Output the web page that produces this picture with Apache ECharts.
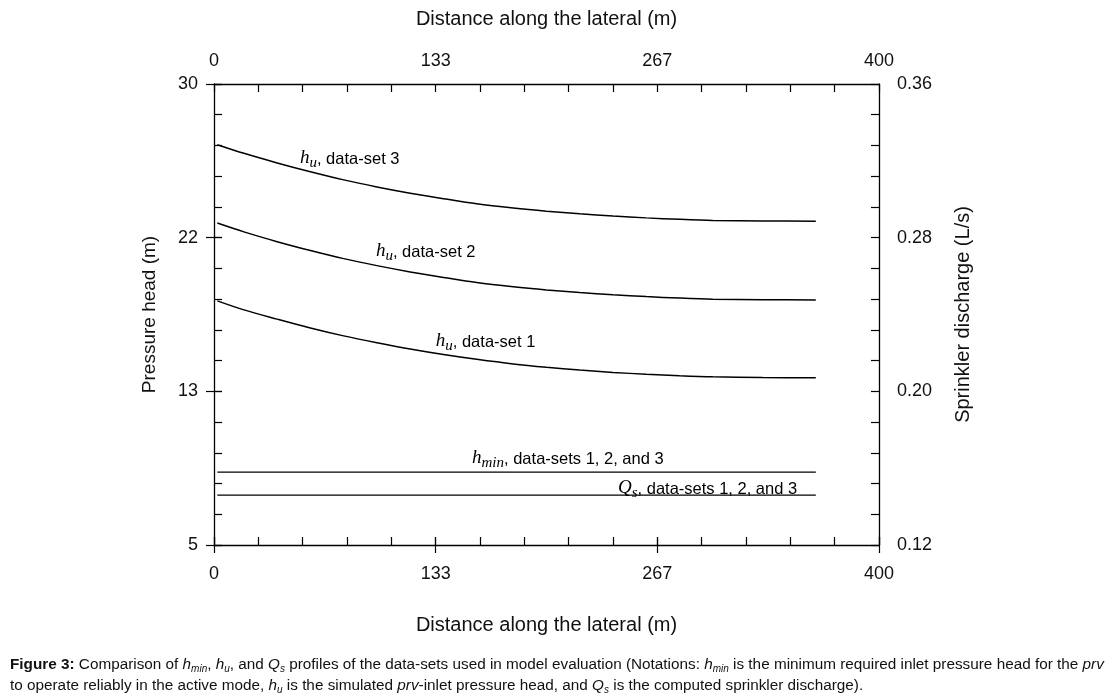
<!DOCTYPE html>
<html>
<head>
<meta charset="utf-8">
<script src="https://cdn.jsdelivr.net/npm/echarts@6/dist/echarts.min.js"></script>
<style>
html,body{margin:0;padding:0;background:#fff;}
#chart{position:absolute;left:0;top:0;width:1112px;height:697px;}
#cap{position:absolute;left:10px;top:653px;font-family:'Liberation Sans',Arial,sans-serif;font-size:15.3px;line-height:21px;color:#111;white-space:nowrap;}
#cap sub{font-size:10px;font-style:italic;vertical-align:-3px;line-height:0;}
</style>
</head>
<body>
<div id="chart"></div>
<div id="cap"><b>Figure 3:</b> Comparison of <i>h</i><sub>min</sub>, <i>h</i><sub>u</sub>, and <i>Q</i><sub>s</sub> profiles of the data-sets used in model evaluation (Notations: <i>h</i><sub>min</sub> is the minimum required inlet pressure head for the <i>prv</i><br>to operate reliably in the active mode, <i>h</i><sub>u</sub> is the simulated <i>prv</i>-inlet pressure head, and <i>Q</i><sub>s</sub> is the computed sprinkler discharge).</div>
<script>
// ---- data ----
const xTickLabels = ['0', '133', '267', '400'];
const leftTickLabels = ['5', '13', '22', '30'];
const rightTickLabels = ['0.12', '0.20', '0.28', '0.36'];

const distance = [2, 18, 38, 58, 78, 98, 118, 138, 158, 180, 200, 220, 240, 260, 280, 300, 330, 362];
const huSet3 = [26.71, 26.24, 25.72, 25.24, 24.80, 24.42, 24.08, 23.78, 23.50, 23.27, 23.10, 22.96, 22.84, 22.74, 22.66, 22.60, 22.57, 22.56];
const huSet2 = [22.46, 21.98, 21.45, 20.97, 20.53, 20.15, 19.81, 19.51, 19.23, 19.00, 18.83, 18.69, 18.57, 18.47, 18.39, 18.33, 18.30, 18.29];
const huSet1 = [18.24, 17.75, 17.25, 16.77, 16.34, 15.97, 15.63, 15.33, 15.07, 14.82, 14.64, 14.49, 14.36, 14.26, 14.18, 14.12, 14.08, 14.07];

const flatDistance = [2, 362];
const hminValues = [8.95, 8.95];
const qsValues = [0.146, 0.146];

// ---- helpers ----
const pairs = (xs, ys) => xs.map((x, i) => [x, ys[i]]);
const FONT = "'Liberation Sans', Arial, sans-serif";
const SERIF = "'Liberation Serif', 'Times New Roman', serif";
const INK = '#000';

const rich = {
  h: { fontFamily: SERIF, fontStyle: 'italic', fontSize: 19, color: INK, verticalAlign: 'top', padding: [0, 0, 0, 0] },
  s: { fontFamily: SERIF, fontStyle: 'italic', fontSize: 15, color: INK, verticalAlign: 'top', padding: [7, 0, 0, 0] },
  t: { fontFamily: FONT, fontSize: 16.5, color: INK, verticalAlign: 'top', padding: [2, 0, 0, 0] }
};

function labelPoint(coord, text) {
  return {
    symbol: 'circle', symbolSize: 0, silent: true,
    label: { show: true, position: [0, 3], align: 'left', verticalAlign: 'middle', formatter: text, rich: rich },
    data: [{ coord: coord }]
  };
}

function curve(name, xs, ys, yAxisIndex, labelCoord, labelText, width) {
  return {
    name: name, type: 'line', xAxisIndex: 0, yAxisIndex: yAxisIndex,
    data: pairs(xs, ys),
    showSymbol: false, smooth: 0.3,
    lineStyle: { color: INK, width: width },
    silent: true,
    markPoint: labelPoint(labelCoord, labelText),
    z: 3
  };
}

const chart = echarts.init(document.getElementById('chart'), null, { renderer: 'canvas' });

const grid = { left: 214, top: 84, width: 665, height: 461, containLabel: false };

const baseDisplay = {
  type: 'value', min: 0, max: 3, interval: 1,
  splitLine: { show: false },
  axisLine: { show: false, lineStyle: { color: INK, width: 1.3 } },
  axisTick: { show: false },
  minorTick: { show: false },
  axisLabel: { show: false },
  z: 5
};

function innerAxis(extra) {
  return Object.assign({}, baseDisplay, {
    axisLine: { show: true, onZero: false, lineStyle: { color: INK, width: 1.3 } },
    axisTick: { show: true, inside: true, length: 8, lineStyle: { color: INK, width: 1.2 } },
    minorTick: { show: true, splitNumber: 5, length: 8, lineStyle: { color: INK, width: 1.2 } }
  }, extra);
}
function outerAxis(labels, margin, extra) {
  return Object.assign({}, baseDisplay, {
    axisTick: { show: true, inside: false, length: 8, lineStyle: { color: INK, width: 1.2 } },
    axisLabel: {
      show: true, margin: margin, color: '#111', fontFamily: FONT, fontSize: 18,
      formatter: v => labels[Math.round(v)]
    }
  }, extra);
}

const option = {
  backgroundColor: '#fff',
  animation: false,
  grid: grid,
  xAxis: [
    { type: 'value', min: 0, max: 400, show: false, position: 'bottom' },
    innerAxis({ position: 'bottom' }),
    outerAxis(xTickLabels, 20, {
      position: 'bottom',
      name: 'Distance along the lateral (m)', nameLocation: 'middle', nameGap: 70,
      nameTextStyle: { fontFamily: FONT, fontSize: 20, color: '#111' }
    }),
    innerAxis({ position: 'top' }),
    outerAxis(xTickLabels, 14, {
      position: 'top',
      name: 'Distance along the lateral (m)', nameLocation: 'middle', nameGap: 55,
      nameTextStyle: { fontFamily: FONT, fontSize: 20, color: '#111' }
    })
  ],
  yAxis: [
    { type: 'value', min: 5, max: 30, show: false, position: 'left' },
    { type: 'value', min: 0.12, max: 0.36, show: false, position: 'right' },
    innerAxis({ position: 'left' }),
    outerAxis(leftTickLabels, 16, {
      position: 'left',
      name: 'Pressure head (m)', nameLocation: 'middle', nameGap: 55, nameRotate: 90,
      nameTextStyle: { fontFamily: FONT, fontSize: 19, color: '#111' }
    }),
    innerAxis({ position: 'right' }),
    outerAxis(rightTickLabels, 18, {
      position: 'right',
      name: 'Sprinkler discharge (L/s)', nameLocation: 'middle', nameGap: 74, nameRotate: 90,
      nameTextStyle: { fontFamily: FONT, fontSize: 20, color: '#111' }
    })
  ],
  series: [
    curve('hu data-set 3', distance, huSet3, 0, [51.7, 26.06], '{h|h}{s|u}{t|, data-set 3}', 1.5),
    curve('hu data-set 2', distance, huSet2, 0, [97.4, 21.01], '{h|h}{s|u}{t|, data-set 2}', 1.5),
    curve('hu data-set 1', distance, huSet1, 0, [133.4, 16.13], '{h|h}{s|u}{t|, data-set 1}', 1.5),
    curve('hmin', flatDistance, hminValues, 0, [155.2, 9.78], '{h|h}{s|min}{t|, data-sets 1, 2, and 3}', 1.3),
    curve('Qs', flatDistance, qsValues, 1, [243, 0.1502], '{h|Q}{s|s}{t|, data-sets 1, 2, and 3}', 1.3)
  ]
};

chart.setOption(option);
</script>
</body>
</html>
